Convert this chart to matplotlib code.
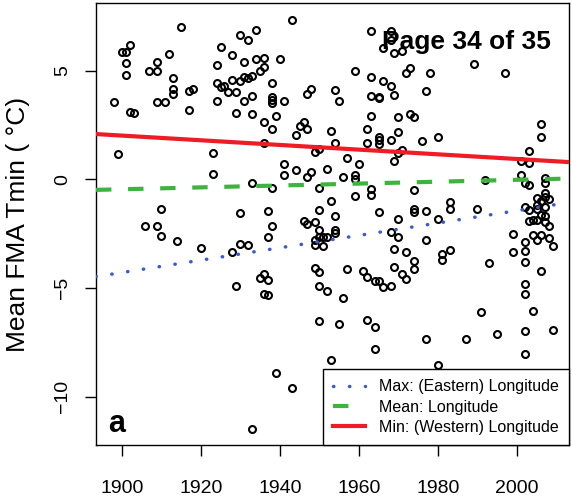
import matplotlib
matplotlib.use("Agg")
import matplotlib.pyplot as plt
from matplotlib.lines import Line2D

plt.rcParams['font.family'] = ['Liberation Sans', 'DejaVu Sans']

# ---- station data: year, mean FMA Tmin (deg C) ----
years = [
    1915, 1943, 1930, 1932, 1934, 1902, 1900, 1901, 1901, 1901,
    1912, 1909, 1907, 1909, 1913, 1913, 1913, 1917, 1918, 1898,
    1909, 1911, 1917, 1902, 1903, 1925, 1928, 1924, 1931, 1934,
    1936, 1940, 1935, 1936, 1924, 1925, 1926, 1927, 1929, 1928,
    1930, 1931, 1932, 1933, 1938, 1924, 1931, 1933, 1938, 1938,
    1938, 1941, 1947, 1948, 1954, 1929, 1933, 1939,
    1936, 1938, 1944, 1945, 1946, 1947, 1953, 1936, 1899, 1923,
    1923, 1941, 1941, 1944, 1948, 1947, 1949, 1950, 1952, 1954,
    1933, 1938, 1950, 1953, 1910, 1930, 1937, 1950, 1954, 1946,
    1949, 1947,
    1906, 1909, 1910, 1914, 1920, 1938, 1937, 1930, 1932, 1928,
    1950, 1949, 1950, 1951, 1952, 1949, 1951, 1954, 1954, 1949,
    1950, 1936, 1935, 1937, 1929, 1936, 1937, 1950, 1952, 1950,
    1955, 1939, 1943, 1933, 1953,
    1963, 1968, 1968, 1966, 1969, 1971, 1989, 1997, 1959, 1963,
    1966, 1968, 1972, 1973, 1978, 1955, 1963, 1965, 1965, 1969,
    1977,
    1963, 1970, 1973, 1974, 1962, 1965, 1965, 1965, 1962, 1968,
    1970, 1976, 1980, 1970, 1971, 1969, 1957, 1960, 1956, 1959,
    1959, 1963, 1963, 1959, 1974, 1992, 2001, 2003, 2003, 2001,
    2002, 2003, 2006, 2006, 2007, 2007, 2007, 2007, 2008, 1965,
    1970, 1974, 1974, 1977, 1980, 1983, 1983, 1990, 2002, 2003,
    2005, 2006, 2005, 2005, 2007, 2006, 2007, 2003, 2004, 2005,
    2007,
    1968, 1970, 1977, 1969, 1972, 1981, 1981, 1983, 1974, 1974,
    1969, 1971, 1972, 1957, 1961, 1962, 1964, 1965, 1966, 1968,
    1956, 1962, 1964, 1993, 1991, 1995, 1999, 1999, 2002, 2002,
    2002, 2002, 2002, 2002, 2004, 2006, 2009, 2009, 2008, 2004,
    2005, 2006, 2008, 1964, 1977, 1980, 1987, 2002,
]
tmin = [
    7.00, 7.35, 6.64, 6.40, 6.90, 6.21, 5.86, 5.86, 5.35, 4.82,
    5.78, 5.40, 4.97, 4.97, 4.66, 4.17, 3.93, 4.09, 4.17, 3.56,
    3.57, 3.57, 3.20, 3.12, 3.08, 6.09, 5.74, 5.28, 5.41, 5.55,
    5.61, 5.55, 5.00, 5.17, 4.45, 4.25, 4.32, 4.02, 4.03, 4.59,
    4.51, 4.71, 4.66, 4.76, 4.46, 3.63, 3.62, 3.83, 3.80, 3.65,
    3.50, 3.63, 3.95, 4.18, 4.11, 3.06, 3.00, 2.90,
    2.65, 2.33, 2.05, 2.46, 2.65, 2.31, 2.24, 1.70, 1.19, 1.21,
    0.25, 0.71, 0.21, 0.44, 0.35, 0.13, 1.27, 1.39, 0.47, 1.70,
    -0.18, -0.41, -0.41, -0.98, -1.37, -1.53, -1.44, -1.41, -1.68, -1.90,
    -1.94, -2.07,
    -2.13, -2.13, -2.60, -2.83, -3.16, -2.14, -2.66, -2.97, -3.02, -3.36,
    -2.33, -2.79, -2.66, -2.64, -2.66, -3.02, -3.05, -2.33, -2.48, -4.06,
    -4.25, -4.37, -4.54, -4.63, -4.89, -5.26, -5.34, -4.92, -5.15, -6.51,
    -6.66, -8.90, -9.61, -11.50, -8.29,
    6.84, 6.84, 6.43, 6.05, 5.82, 5.92, 5.32, 4.91, 5.00, 4.72,
    4.52, 4.28, 4.88, 5.14, 4.91, 3.60, 3.85, 3.80, 3.75, 3.88,
    4.06,
    2.93, 2.89, 3.03, 2.87, 2.31, 1.97, 1.82, 1.64, 1.67, 1.82,
    2.19, 1.77, 1.97, 1.24, 1.35, 0.87, 0.98, 0.71, 0.13, 0.19,
    0.04, -0.45, -0.71, -0.75, -0.47, -0.04, 0.85, 1.30, 0.75, 0.21,
    -0.18, -0.27, 2.54, 1.96, 0.06, -0.18, -0.61, -0.79, -0.91, -1.48,
    -1.81, -1.36, -1.50, -1.47, -1.82, -1.04, -1.35, -1.36, -1.28, -1.41,
    -0.87, -0.98, -1.16, -1.35, -1.25, -1.62, -1.68, -1.90, -1.87, -1.87,
    -1.94,
    -2.40, -2.66, -2.80, -3.22, -3.34, -3.45, -3.71, -3.25, -3.74, -4.11,
    -4.05, -4.35, -4.57, -4.11, -4.22, -4.48, -4.69, -4.69, -4.95, -4.89,
    -5.46, -6.46, -6.81, -3.86, -6.10, -7.13, -2.51, -3.36, -2.87, -3.28,
    -3.79, -4.80, -5.28, -6.97, -6.07, -4.22, -3.08, -6.95, -2.13, -2.56,
    -2.79, -2.56, -2.71, -7.78, -7.34, -8.55, -7.36, -8.01,
]

# ---- linear trends (value at 1950 and slope per year) ----
trend_labels = ["Max: (Eastern) Longitude", "Mean: Longitude", "Min: (Western) Longitude"]
trend_at_1950 = [-2.86, -0.234, 1.48]
trend_slope = [0.0285, 0.00435, -0.01078]
trend_colors = ["#3a5bcf", "#3db43d", "#ee1c25"]

xticks = [1900, 1920, 1940, 1960, 1980, 2000]
yticks = [-10, -5, 0, 5]

fig = plt.figure(figsize=(5.72, 4.99), dpi=100)
ax = fig.add_axes([96 / 572, 1 - 445 / 499, 473 / 572, 442 / 499])
ax.set_xlim(1893.5, 2013.15)
ax.set_ylim(-12.22, 8.12)

ax.plot(years, tmin, linestyle='none', marker='o', markersize=5.0,
        markerfacecolor='none', markeredgecolor='black', markeredgewidth=1.5, zorder=3)

styles = [
    dict(linewidth=2.5, dashes=(0.1, 4.5), dash_capstyle='round'),
    dict(linewidth=3.0, dashes=(3.7, 4.0), dash_capstyle='butt'),
    dict(linewidth=3.0, linestyle='-'),
]
handles = []
for lab, b, m, c, st in zip(trend_labels, trend_at_1950, trend_slope, trend_colors, styles):
    ax.axline((1950, b), slope=m, color=c, zorder=4, **st)
    handles.append(Line2D([], [], color=c, **st))

leg = ax.legend(handles, trend_labels, loc='lower right', borderaxespad=0,
                fancybox=False, edgecolor='black', framealpha=1, fontsize=11.5,
                handlelength=2.0, handletextpad=0.85, labelspacing=0.32,
                borderpad=0.65)
leg.get_frame().set_linewidth(1.0)
leg.set_zorder(10)

ax.set_xticks(xticks)
ax.set_yticks(yticks)
ax.set_yticklabels([str(v).replace('-', '\u2212') for v in yticks], rotation=90, va='center')
ax.tick_params(axis='both', direction='out', length=8, width=1.0, labelsize=14)
ax.tick_params(axis='x', pad=17.5)
ax.tick_params(axis='y', pad=10)
for s in ax.spines.values():
    s.set_linewidth(1.0)

fig.text(18 / 572, 1 - 224 / 499, 'Mean FMA Tmin ( \u00b0C)', rotation=90,
         ha='center', va='center', fontsize=19)

ax.text(0.025, 0.029, 'a', transform=ax.transAxes, fontsize=22,
        fontweight='bold', ha='left', va='baseline', zorder=6)

fig.text(466 / 572, 1 - 42 / 499, 'Page 34 of 35', ha='center', va='center',
         fontsize=19, fontweight='bold', zorder=20)

fig.savefig('out.png', dpi=100)
